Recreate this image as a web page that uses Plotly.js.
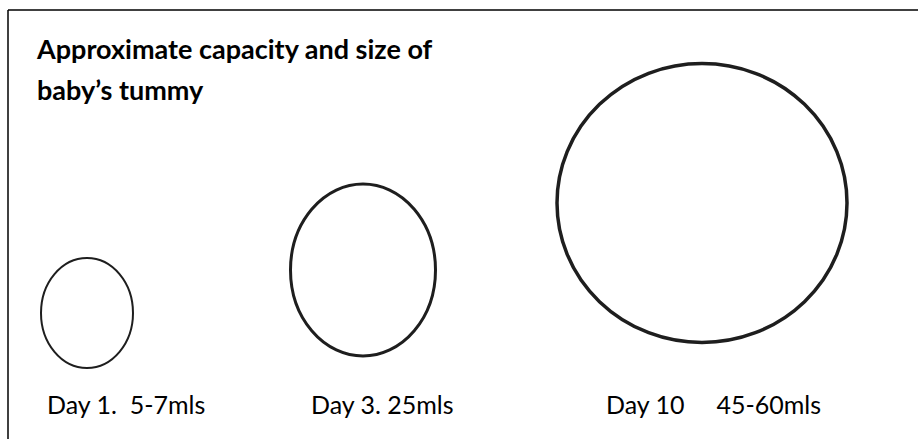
<!DOCTYPE html>
<html>
<head>
<meta charset="utf-8">
<script src="https://cdn.plot.ly/plotly-3.0.1.min.js"></script>
<style>html,body{margin:0;padding:0;background:#fff;}#chart{width:918px;height:439px;}</style>
</head>
<body>
<div id="chart"></div>
<script>
// Data
const days = ['Day 1.', 'Day 3.', 'Day 10'];
const capacities = ['5-7mls', '25mls', '45-60mls'];
const gaps = ['\u00a0\u00a0', '\u00a0', '\u00a0\u00a0\u00a0\u00a0\u00a0'];
// approximate drawn tummy size (axis units): width and height of each outline
const tummyWidth = [92, 145, 290];
const tummyHeight = [110, 172, 279];

// Layout config (positions and styles)
const centerX = [87, 363, 702];
const centerY = [313, 270, 203];
const labelX = [45, 309, 604];
const labelY = 404;
const strokeW = [2, 3, 3.5];
const fontFam = 'Lato, "Open Sans", sans-serif';

const shapes = days.map((d, i) => ({
  type: 'circle', xref: 'x', yref: 'y',
  x0: centerX[i] - tummyWidth[i] / 2, x1: centerX[i] + tummyWidth[i] / 2,
  y0: centerY[i] - tummyHeight[i] / 2, y1: centerY[i] + tummyHeight[i] / 2,
  line: {color: '#1e1e1e', width: strokeW[i]}, fillcolor: 'rgba(0,0,0,0)'
}));
// frame lines (top and left)
shapes.push({type: 'line', xref: 'x', yref: 'y', x0: 8, x1: 918, y0: 10, y1: 10, line: {color: '#000', width: 1.5}});
shapes.push({type: 'line', xref: 'x', yref: 'y', x0: 8, x1: 8, y0: 10, y1: 439, line: {color: '#000', width: 1.5}});

const annotations = days.map((d, i) => ({
  x: labelX[i], y: labelY, xref: 'x', yref: 'y',
  text: d + gaps[i] + capacities[i], showarrow: false,
  xanchor: 'left', yanchor: 'middle',
  font: {family: fontFam, size: 25, color: '#000'}
}));
annotations.push({
  x: 35, y: 89, xref: 'x', yref: 'y', text: '<b>baby\u2019s tummy</b>', showarrow: false,
  xanchor: 'left', yanchor: 'middle', font: {family: fontFam, size: 27, color: '#000'}
});

const trace = {
  x: centerX, y: centerY, type: 'scatter', mode: 'markers',
  marker: {opacity: 0}, hoverinfo: 'skip', showlegend: false,
  text: days.map((d, i) => d + ' ' + capacities[i])
};

const layout = {
  width: 918, height: 439,
  margin: {l: 0, r: 0, t: 0, b: 0},
  paper_bgcolor: '#fff', plot_bgcolor: '#fff',
  title: {
    text: '<b>Approximate capacity and size of</b>',
    x: 37 / 918, xanchor: 'left', xref: 'paper',
    y: 1 - 50 / 439, yanchor: 'middle', yref: 'paper',
    font: {family: fontFam, size: 27, color: '#000'}
  },
  xaxis: {range: [0, 918], visible: false, fixedrange: true},
  yaxis: {range: [439, 0], visible: false, fixedrange: true},
  shapes: shapes,
  annotations: annotations,
  showlegend: false
};

Plotly.newPlot('chart', [trace], layout, {displayModeBar: false, staticPlot: true});
</script>
</body>
</html>
